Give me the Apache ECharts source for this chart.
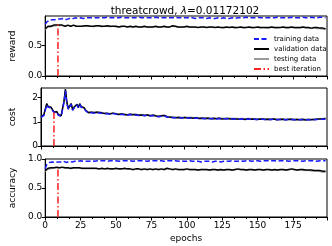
<!DOCTYPE html>
<html><head><meta charset="utf-8">
<script src="https://cdn.jsdelivr.net/npm/echarts@6/dist/echarts.min.js"></script>
<style>html,body{margin:0;padding:0;background:#fff}#c{width:332px;height:246px}</style>
</head><body><div id="c"></div>
<script>
const epochs = [0,1,2,3,4,5,6,7,8,9,10,11,12,13,14,15,16,17,18,19,20,21,22,23,24,25,26,27,28,29,30,31,32,33,34,35,36,37,38,39,
40,42,44,46,48,50,52,54,56,58,60,62,64,66,68,70,72,74,76,78,80,82,84,86,88,90,92,94,96,98,
100,102,104,106,108,110,112,114,116,118,120,122,124,126,128,130,132,134,136,138,
140,142,144,146,148,150,152,154,156,158,160,162,164,166,168,170,172,174,176,178,
180,182,184,186,188,190,192,194,196,198];
const bestEpoch = 9;

const rewardTrain = [0.85,0.89,0.91,0.92,0.93,0.93,0.94,0.93,0.94,0.94,0.95,0.94,0.95,0.95,0.94,0.93,0.94,0.95,0.95,0.94,0.95,0.96,0.96,0.95,0.96,0.96,0.96,0.95,0.96,0.96,0.96,0.96,0.95,0.96,0.96,0.96,0.97,0.96,0.96,0.96,
0.96,0.96,0.97,0.96,0.96,0.96,0.96,0.97,0.96,0.96,0.96,0.96,0.96,0.97,0.96,0.96,0.96,0.96,0.96,0.97,
0.96,0.96,0.96,0.96,0.96,0.96,0.97,0.96,0.96,0.96,0.96,0.96,0.96,0.95,0.96,0.96,0.96,0.95,0.96,0.95,
0.95,0.96,0.95,0.96,0.95,0.95,0.96,0.95,0.96,0.96,0.96,0.97,0.96,0.96,0.96,0.97,0.96,0.96,0.96,0.96,
0.96,0.96,0.97,0.96,0.96,0.96,0.96,0.97,0.96,0.96,0.96,0.97,0.96,0.96,0.97,0.96,0.96,0.97,0.97,0.96];
const rewardVal = [0.78,0.81,0.82,0.83,0.82,0.83,0.84,0.83,0.84,0.85,0.84,0.83,0.84,0.83,0.82,0.83,0.84,0.83,0.82,0.83,0.84,0.83,0.82,0.83,0.82,0.83,0.82,0.83,0.83,0.82,0.83,0.82,0.82,0.83,0.82,0.82,0.83,0.82,0.83,0.82,
0.82,0.82,0.83,0.82,0.82,0.82,0.81,0.82,0.82,0.81,0.82,0.81,0.82,0.81,0.81,0.82,0.81,0.81,0.81,0.82,
0.81,0.81,0.82,0.81,0.81,0.83,0.82,0.81,0.81,0.81,0.82,0.81,0.81,0.81,0.80,0.81,0.81,0.80,0.81,0.81,
0.80,0.81,0.80,0.80,0.81,0.80,0.81,0.80,0.80,0.81,0.80,0.80,0.81,0.80,0.80,0.81,0.80,0.80,0.80,0.80,
0.81,0.80,0.80,0.80,0.81,0.80,0.80,0.81,0.80,0.80,0.80,0.81,0.80,0.80,0.79,0.80,0.80,0.79,0.79,0.78];
const rewardTest = [0.76,0.79,0.80,0.81,0.81,0.82,0.82,0.82,0.83,0.83,0.83,0.82,0.83,0.82,0.82,0.82,0.83,0.82,0.82,0.82,0.83,0.82,0.82,0.82,0.82,0.82,0.82,0.82,0.82,0.82,0.82,0.81,0.82,0.82,0.81,0.82,0.82,0.81,0.82,0.82,
0.81,0.82,0.82,0.81,0.82,0.81,0.81,0.81,0.82,0.81,0.81,0.81,0.81,0.81,0.80,0.81,0.81,0.80,0.81,0.81,
0.80,0.81,0.81,0.80,0.81,0.82,0.81,0.80,0.80,0.81,0.81,0.80,0.80,0.80,0.80,0.80,0.81,0.80,0.80,0.80,
0.80,0.80,0.80,0.79,0.80,0.80,0.80,0.79,0.80,0.80,0.79,0.80,0.80,0.79,0.80,0.80,0.79,0.80,0.79,0.79,
0.80,0.79,0.79,0.80,0.80,0.79,0.79,0.80,0.79,0.79,0.79,0.80,0.79,0.79,0.78,0.79,0.78,0.78,0.77,0.77];

const costTrain = [1.18,1.12,1.26,1.22,1.70,1.60,1.62,1.58,1.52,1.38,1.36,1.40,1.28,1.35,1.22,1.27,1.80,2.28,1.76,1.52,1.60,1.72,1.48,1.57,1.53,1.70,1.58,1.72,1.60,1.54,1.56,1.46,1.40,1.36,1.33,1.38,1.34,1.36,1.32,1.38,
1.35,1.36,1.33,1.34,1.31,1.34,1.32,1.29,1.31,1.29,1.27,1.30,1.28,1.28,1.26,1.27,1.25,1.27,1.24,1.26,
1.23,1.21,1.23,1.24,1.19,1.18,1.17,1.17,1.17,1.16,1.17,1.16,1.16,1.15,1.16,1.14,1.15,1.13,1.14,1.13,
1.14,1.12,1.14,1.12,1.13,1.13,1.12,1.12,1.12,1.11,1.12,1.10,1.12,1.11,1.11,1.10,1.11,1.11,1.10,1.10,
1.10,1.11,1.09,1.10,1.10,1.09,1.10,1.10,1.09,1.09,1.09,1.10,1.08,1.09,1.09,1.09,1.10,1.11,1.11,1.12];
const costVal = [1.20,1.15,1.30,1.25,1.75,1.62,1.65,1.60,1.55,1.40,1.38,1.42,1.30,1.38,1.25,1.30,1.85,2.35,1.80,1.55,1.62,1.75,1.50,1.60,1.55,1.72,1.60,1.75,1.62,1.55,1.58,1.48,1.42,1.38,1.35,1.40,1.36,1.38,1.34,1.40,
1.36,1.38,1.34,1.35,1.32,1.36,1.33,1.30,1.32,1.30,1.28,1.31,1.29,1.30,1.27,1.28,1.26,1.28,1.25,1.27,
1.24,1.22,1.25,1.26,1.20,1.19,1.18,1.17,1.18,1.16,1.18,1.16,1.17,1.15,1.17,1.14,1.15,1.14,1.15,1.13,
1.14,1.13,1.15,1.12,1.13,1.14,1.12,1.13,1.12,1.11,1.12,1.10,1.13,1.11,1.12,1.10,1.11,1.12,1.10,1.11,
1.10,1.12,1.09,1.10,1.11,1.09,1.10,1.11,1.09,1.10,1.09,1.10,1.08,1.10,1.09,1.10,1.11,1.12,1.12,1.14];
const costTest = [1.22,1.17,1.32,1.28,1.78,1.65,1.68,1.63,1.57,1.43,1.41,1.44,1.33,1.40,1.28,1.33,1.88,2.38,1.83,1.58,1.65,1.78,1.53,1.63,1.58,1.75,1.63,1.77,1.65,1.58,1.60,1.51,1.45,1.41,1.38,1.42,1.39,1.41,1.37,1.42,
1.39,1.40,1.37,1.38,1.35,1.38,1.36,1.33,1.35,1.33,1.31,1.33,1.32,1.32,1.30,1.31,1.29,1.30,1.28,1.30,
1.27,1.25,1.27,1.28,1.23,1.22,1.21,1.20,1.21,1.19,1.20,1.19,1.20,1.18,1.19,1.17,1.18,1.17,1.18,1.16,
1.17,1.16,1.17,1.15,1.16,1.16,1.15,1.15,1.15,1.14,1.15,1.13,1.15,1.14,1.14,1.13,1.14,1.14,1.13,1.13,
1.13,1.14,1.12,1.13,1.13,1.12,1.13,1.13,1.12,1.12,1.12,1.13,1.11,1.12,1.12,1.12,1.13,1.14,1.14,1.16];

const accTrain = [0.83,0.90,0.93,0.94,0.95,0.95,0.95,0.94,0.95,0.95,0.96,0.95,0.95,0.96,0.95,0.94,0.95,0.96,0.95,0.95,0.96,0.96,0.97,0.96,0.96,0.97,0.96,0.96,0.97,0.96,0.97,0.96,0.96,0.97,0.97,0.96,0.97,0.97,0.96,0.97,
0.97,0.97,0.96,0.97,0.97,0.97,0.96,0.97,0.97,0.97,0.97,0.96,0.97,0.97,0.97,0.97,0.96,0.97,0.97,0.97,
0.97,0.97,0.96,0.97,0.97,0.97,0.97,0.96,0.97,0.96,0.96,0.97,0.96,0.96,0.96,0.95,0.96,0.96,0.96,0.95,
0.96,0.96,0.95,0.96,0.96,0.96,0.97,0.96,0.96,0.97,0.96,0.97,0.97,0.96,0.97,0.97,0.96,0.97,0.97,0.97,
0.97,0.97,0.96,0.97,0.97,0.97,0.96,0.97,0.97,0.97,0.97,0.96,0.97,0.97,0.97,0.97,0.96,0.97,0.97,0.97];
const accVal = [0.80,0.83,0.84,0.84,0.85,0.84,0.85,0.85,0.86,0.86,0.85,0.85,0.86,0.85,0.85,0.84,0.85,0.85,0.84,0.85,0.85,0.84,0.85,0.84,0.85,0.84,0.84,0.85,0.84,0.84,0.84,0.85,0.84,0.84,0.84,0.83,0.84,0.84,0.83,0.84,
0.84,0.83,0.84,0.83,0.83,0.84,0.83,0.83,0.84,0.83,0.83,0.82,0.83,0.83,0.82,0.83,0.82,0.83,0.82,0.83,
0.82,0.83,0.82,0.84,0.83,0.82,0.83,0.82,0.82,0.82,0.83,0.82,0.82,0.82,0.81,0.82,0.82,0.82,0.81,0.82,
0.82,0.81,0.82,0.81,0.82,0.82,0.81,0.82,0.83,0.82,0.82,0.81,0.82,0.82,0.81,0.82,0.82,0.81,0.82,0.82,
0.81,0.82,0.81,0.82,0.82,0.81,0.82,0.83,0.82,0.81,0.82,0.82,0.81,0.81,0.81,0.80,0.80,0.80,0.79,0.79];
const accTest = [0.78,0.81,0.82,0.83,0.83,0.83,0.84,0.84,0.84,0.85,0.84,0.84,0.85,0.84,0.84,0.83,0.84,0.84,0.83,0.84,0.84,0.83,0.84,0.83,0.84,0.83,0.83,0.84,0.83,0.83,0.83,0.84,0.83,0.83,0.83,0.82,0.83,0.83,0.82,0.83,
0.83,0.82,0.83,0.82,0.82,0.83,0.82,0.82,0.83,0.82,0.82,0.81,0.82,0.82,0.81,0.82,0.81,0.82,0.81,0.82,
0.81,0.82,0.81,0.83,0.82,0.81,0.82,0.81,0.81,0.81,0.82,0.81,0.81,0.81,0.80,0.81,0.81,0.81,0.80,0.81,
0.81,0.80,0.81,0.80,0.81,0.81,0.80,0.81,0.82,0.81,0.81,0.80,0.81,0.81,0.80,0.81,0.81,0.80,0.81,0.81,
0.80,0.81,0.80,0.81,0.81,0.80,0.81,0.82,0.81,0.80,0.81,0.80,0.80,0.80,0.79,0.79,0.79,0.78,0.77,0.77];

const FONT = 'DejaVu Sans';
const pair = arr => epochs.map((e,i)=>[e,arr[i]]);
const bestIdx = epochs.indexOf(bestEpoch);

const panels = [
  {name:'reward', top:16, height:60, max:0.99, interval:0.5, dec:1, tr:rewardTrain, va:rewardVal, te:rewardTest},
  {name:'cost', top:88, height:58, max:2.4, interval:1, dec:0, tr:costTrain, va:costVal, te:costTest},
  {name:'accuracy', top:159, height:58, max:1.0, interval:0.5, dec:1, tr:accTrain, va:accVal, te:accTest}
];

const grid=[], xAxis=[], yAxis=[], series=[];
panels.forEach((p,k)=>{
  grid.push({left:33, width:294, top:p.top, height:p.height, show:true, borderColor:'#000', borderWidth:1, backgroundColor:'transparent'});
  xAxis.push({type:'value', gridIndex:k, min:0, max:199, interval:25,
    axisLine:{show:true, onZero:false, lineStyle:{color:'#000', width:1}},
    axisTick:{show:true, length:3.5, lineStyle:{color:'#000'}},
    minorTick:{show:true, splitNumber:3, length:2, lineStyle:{color:'#000'}},
    splitLine:{show:false},
    axisLabel:{show:k===2, color:'#000', fontFamily:FONT, fontSize:9, margin:4, showMaxLabel:false},
    name:k===2?'epochs':'', nameLocation:'middle', nameGap:17, nameTextStyle:{color:'#000', fontFamily:FONT, fontSize:9}});
  yAxis.push({type:'value', gridIndex:k, min:0, max:p.max, interval:p.interval,
    axisLine:{show:true, lineStyle:{color:'#000', width:1}},
    axisTick:{show:true, length:3.5, lineStyle:{color:'#000'}},
    splitLine:{show:false},
    axisLabel:{color:'#000', fontFamily:FONT, fontSize:9, margin:3, formatter:v=>v.toFixed(p.dec), showMaxLabel:p.name==='accuracy'},
    name:p.name, nameLocation:'middle', nameGap:24, nameRotate:90, nameTextStyle:{color:'#000', fontFamily:FONT, fontSize:9}});
  series.push({name:'testing data', type:'line', xAxisIndex:k, yAxisIndex:k, data:pair(p.te), symbol:'none', lineStyle:{color:'#999', width:1}, itemStyle:{color:'#999'}, z:2});
  series.push({name:'validation data', type:'line', xAxisIndex:k, yAxisIndex:k, data:pair(p.va), symbol:'none', lineStyle:{color:'#000', width:1.5}, itemStyle:{color:'#000'}, z:3});
  series.push({name:'training data', type:'line', xAxisIndex:k, yAxisIndex:k, data:pair(p.tr), symbol:'none', lineStyle:{color:'#1a1aff', width:1.5, type:[5,2.5]}, itemStyle:{color:'#1a1aff'}, z:4});
  series.push({name:'best iteration', type:'line', xAxisIndex:k, yAxisIndex:k, data:[[bestEpoch,0],[bestEpoch,p.va[bestIdx]]], symbol:'none', lineStyle:{color:'#ff2020', width:1.5, type:[7,2.5,1.5,2.5]}, itemStyle:{color:'#ff2020'}, z:5});
});

const chart = echarts.init(document.getElementById('c'), null, {renderer:'canvas'});
chart.setOption({
  animation:false,
  backgroundColor:'#fff',
  title:{text:'threatcrowd, {i|λ}=0.01172102', left:180, textAlign:'center', top:1,
    textStyle:{color:'#000', fontFamily:FONT, fontSize:10.5, fontWeight:'normal', rich:{i:{fontStyle:'italic', fontFamily:FONT, fontSize:10.5, color:'#000'}}}},
  legend:{data:['training data','validation data','testing data','best iteration'], orient:'vertical', left:248, top:30,
    itemWidth:15, itemHeight:8, itemGap:2,
    itemStyle:{color:'transparent', borderColor:'transparent', borderWidth:0, opacity:0},
    textStyle:{color:'#000', fontFamily:FONT, fontSize:7, lineHeight:8}},
  grid, xAxis, yAxis, series
});
</script></body></html>
